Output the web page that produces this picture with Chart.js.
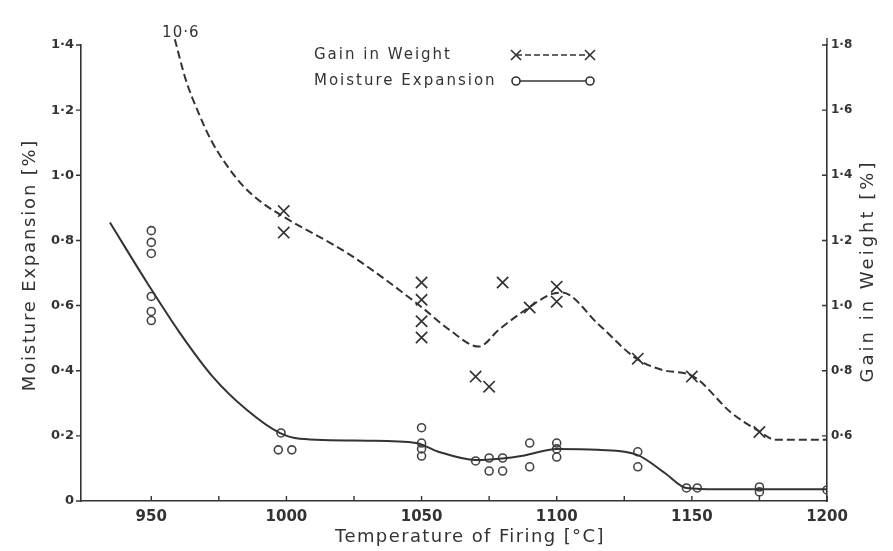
<!DOCTYPE html>
<html>
<head>
<meta charset="utf-8">
<script src="https://cdn.jsdelivr.net/npm/chart.js@4/dist/chart.umd.min.js"></script>
<style>
  html, body { margin: 0; padding: 0; background: #ffffff; }
  #wrap { width: 893px; height: 551px; }
</style>
</head>
<body>
<div id="wrap"><canvas id="c" width="893" height="551"></canvas></div>
<script>
// Firing temperature (°C) and the measured moisture expansion (%) of each specimen
const moistureTemps  = [950, 950, 950, 950, 950, 950, 998, 997, 1002, 1050, 1050, 1050, 1050,
                        1070, 1075, 1075, 1080, 1080, 1090, 1090, 1100, 1100, 1100, 1130, 1130,
                        1148, 1152, 1175, 1175, 1200];
const moistureValues = [0.83, 0.794, 0.76, 0.628, 0.582, 0.554, 0.209, 0.157, 0.157, 0.225, 0.178, 0.16, 0.138,
                        0.123, 0.132, 0.092, 0.132, 0.092, 0.178, 0.105, 0.178, 0.16, 0.135, 0.151, 0.105,
                        0.04, 0.04, 0.043, 0.028, 0.034];

// Firing temperature (°C) and gain in weight (%); the 950 °C value lies far off the scale
const gainTemps  = [950, 999, 999, 1050, 1050, 1050, 1050, 1070, 1075, 1080, 1090, 1100, 1100, 1130, 1150, 1175];
const gainValues = [10.6, 1.29, 1.224, 1.071, 1.018, 0.952, 0.902, 0.782, 0.751, 1.071, 0.994, 1.058, 1.012, 0.837, 0.782, 0.612];

// Hand-faired curves through the two sets of results
const moistureCurveTemps  = [934.7, 948.4, 960.5, 972.7, 985.3, 997.5, 1005, 1030, 1048, 1056, 1070, 1079,
                             1088, 1100, 1115, 1130, 1140, 1148, 1160, 1200];
const moistureCurveValues = [0.855, 0.671, 0.517, 0.382, 0.28, 0.209, 0.191, 0.185, 0.178, 0.152, 0.126, 0.13,
                             0.14, 0.16, 0.157, 0.141, 0.086, 0.04, 0.036, 0.036];

const gainCurveTemps  = [958.7, 962.7, 967.2, 972.3, 977.9, 983.8, 990.8, 999.3, 1023.3, 1050.2, 1060.2, 1071.2, 1078.6,
                         1089.7, 1098, 1101.9, 1115.5, 1129.5, 1138.8, 1150.6, 1164.6, 1175.3, 1180.8, 1200];
const gainCurveValues = [1.818, 1.695, 1.597, 1.505, 1.431, 1.369, 1.317, 1.271, 1.157, 0.994, 0.926, 0.874, 0.926,
                         0.994, 1.035, 1.04, 0.942, 0.837, 0.803, 0.782, 0.671, 0.612, 0.588, 0.588];

// Axis ticks
const temperatureTicks = [950, 1000, 1050, 1100, 1150, 1200];
const moistureTicks = [0, 0.2, 0.4, 0.6, 0.8, 1.0, 1.2, 1.4];
const gainTicks = [0.6, 0.8, 1.0, 1.2, 1.4, 1.6, 1.8];

const INK = '#333333';
const FONT = '"DejaVu Sans", sans-serif';

const pts = (xs, ys) => xs.map((x, i) => ({ x, y: ys[i] }));
const fmt = v => (Math.abs(v) < 1e-9 ? '0' : Number(v).toFixed(1).replace('.', '\u00B7'));

// Short tick marks, axis titles, legend and the off-scale note
const decor = {
  id: 'decor',
  afterDraw(chart) {
    const { ctx, chartArea: a, scales } = chart;
    const { x, yL, yR } = scales;
    ctx.save();
    ctx.strokeStyle = INK;
    ctx.lineWidth = 1.4;
    ctx.beginPath();
    x.ticks.forEach(t => {
      const px = x.getPixelForValue(t.value);
      ctx.moveTo(px, a.bottom); ctx.lineTo(px, a.bottom - 5);
    });
    yL.ticks.forEach(t => {
      const py = yL.getPixelForValue(t.value);
      ctx.moveTo(a.left - 5, py); ctx.lineTo(a.left, py);
    });
    yR.ticks.forEach(t => {
      const py = yR.getPixelForValue(t.value);
      ctx.moveTo(a.right - 5, py); ctx.lineTo(a.right, py);
    });
    // right axis line runs a little past its top tick
    ctx.moveTo(a.right, a.top); ctx.lineTo(a.right, a.top - 7);
    ctx.stroke();

    ctx.fillStyle = INK;
    ctx.textBaseline = 'middle';
    ctx.textAlign = 'center';

    // x-axis title
    ctx.font = `18px ${FONT}`;
    ctx.letterSpacing = '1.4px';
    ctx.fillText('Temperature of Firing [\u00B0C]', (a.left + a.right) / 2 + 16, 537);

    // left title
    ctx.save();
    ctx.translate(30, 265);
    ctx.rotate(-Math.PI / 2);
    ctx.font = `18px ${FONT}`;
    ctx.letterSpacing = '1.8px';
    ctx.fillText('Moisture Expansion [%]', 0, 0);
    ctx.restore();

    // right title (reads upward as well)
    ctx.save();
    ctx.translate(868, 271);
    ctx.rotate(-Math.PI / 2);
    ctx.font = `18px ${FONT}`;
    ctx.letterSpacing = '3px';
    ctx.fillText('Gain in Weight [%]', 0, 0);
    ctx.restore();

    // off-scale value where the dashed curve leaves the top
    ctx.font = `15px ${FONT}`;
    ctx.letterSpacing = '1px';
    const gx = x.getPixelForValue(gainCurveTemps[0]);
    ctx.fillText(fmt(gainValues[0]), gx + 6, 33);

    // legend
    ctx.textAlign = 'left';
    ctx.font = `15px ${FONT}`;
    ctx.letterSpacing = '2px';
    ctx.fillText('Gain in Weight', 314, 55);
    ctx.fillText('Moisture Expansion', 314, 81);
    ctx.letterSpacing = '0px';

    const lx0 = 516, lx1 = 590;
    ctx.lineWidth = 1.6;
    ctx.setLineDash([6, 3]);
    ctx.beginPath(); ctx.moveTo(lx0, 55); ctx.lineTo(lx1, 55); ctx.stroke();
    ctx.setLineDash([]);
    [lx0, lx1].forEach(cx => {
      ctx.beginPath();
      ctx.moveTo(cx - 5, 50); ctx.lineTo(cx + 5, 60);
      ctx.moveTo(cx - 5, 60); ctx.lineTo(cx + 5, 50);
      ctx.stroke();
    });
    ctx.beginPath(); ctx.moveTo(lx0 + 4, 81); ctx.lineTo(lx1 - 4, 81); ctx.stroke();
    [lx0, lx1].forEach(cx => {
      ctx.beginPath(); ctx.arc(cx, 81, 4, 0, Math.PI * 2); ctx.stroke();
    });
    ctx.restore();
  }
};

new Chart(document.getElementById('c'), {
  type: 'scatter',
  data: {
    datasets: [
      {
        label: 'Gain in Weight (curve)',
        data: pts(gainCurveTemps, gainCurveValues),
        yAxisID: 'yR',
        showLine: true,
        pointRadius: 0,
        borderColor: INK,
        borderWidth: 2,
        borderDash: [8, 4],
        cubicInterpolationMode: 'monotone',
        clip: false
      },
      {
        label: 'Moisture Expansion (curve)',
        data: pts(moistureCurveTemps, moistureCurveValues),
        yAxisID: 'yL',
        showLine: true,
        pointRadius: 0,
        borderColor: INK,
        borderWidth: 2,
        cubicInterpolationMode: 'monotone'
      },
      {
        label: 'Gain in Weight',
        data: pts(gainTemps, gainValues),
        yAxisID: 'yR',
        pointStyle: 'crossRot',
        pointRadius: 8,
        pointBorderWidth: 1.7,
        borderColor: INK,
        backgroundColor: INK
      },
      {
        label: 'Moisture Expansion',
        data: pts(moistureTemps, moistureValues),
        yAxisID: 'yL',
        pointStyle: 'circle',
        pointRadius: 4,
        pointBorderWidth: 1.6,
        borderColor: '#444444',
        backgroundColor: 'rgba(255,255,255,0)'
      }
    ]
  },
  options: {
    responsive: false,
    animation: false,
    devicePixelRatio: 1,
    layout: { padding: { top: 45, left: 0, right: 0, bottom: 0 } },
    plugins: { legend: { display: false }, tooltip: { enabled: false } },
    scales: {
      x: {
        type: 'linear',
        min: 924,
        max: 1200,
        afterBuildTicks(scale) {
          const list = [];
          temperatureTicks.forEach((t, i) => {
            list.push({ value: t });
            if (i < temperatureTicks.length - 1) list.push({ value: (t + temperatureTicks[i + 1]) / 2 });
          });
          scale.ticks = list;
        },
        afterFit(scale) { scale.height = 50; },
        grid: { display: false, drawTicks: false },
        border: { display: true, color: INK, width: 1.6 },
        ticks: {
          autoSkip: false,
          maxRotation: 0,
          padding: 7,
          color: INK,
          font: { family: FONT, size: 15, weight: 'bold' },
          callback: v => (temperatureTicks.includes(v) ? String(v) : '')
        }
      },
      yL: {
        type: 'linear',
        position: 'left',
        min: 0,
        max: 1.4,
        afterBuildTicks(scale) { scale.ticks = moistureTicks.map(v => ({ value: v })); },
        afterFit(scale) { scale.width = 81; },
        grid: { display: false, drawTicks: false },
        border: { display: true, color: INK, width: 1.6 },
        ticks: {
          padding: 7,
          color: INK,
          font: { family: FONT, size: 13, weight: 'bold' },
          callback: v => fmt(v)
        }
      },
      yR: {
        type: 'linear',
        position: 'right',
        min: 0.4,
        max: 1.8,
        afterBuildTicks(scale) { scale.ticks = gainTicks.map(v => ({ value: v })); },
        afterFit(scale) { scale.width = 66; },
        grid: { display: false, drawTicks: false },
        border: { display: true, color: INK, width: 1.6 },
        ticks: {
          padding: 4,
          color: INK,
          font: { family: FONT, size: 12, weight: 'bold' },
          callback: v => fmt(v)
        }
      }
    }
  },
  plugins: [decor]
});
</script>
</body>
</html>
